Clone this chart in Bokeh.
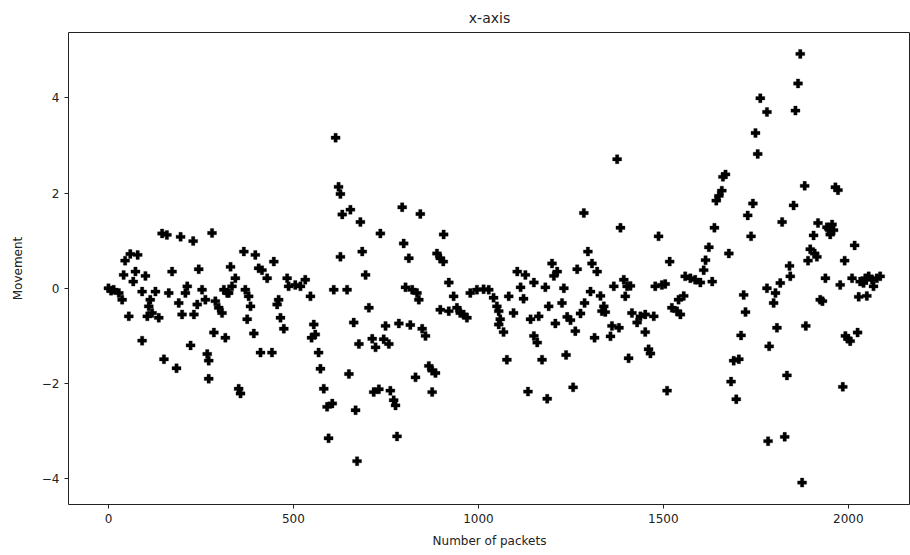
from bokeh.plotting import figure
from bokeh.models import FixedTicker, ColumnDataSource, Range1d
from bokeh.embed import file_html
from bokeh.resources import INLINE

# packet index / movement values
packets = [
    0, 7, 14, 28, 37,
    145, 158, 195, 229, 280, 59, 79, 45, 41, 73, 100, 67, 172, 244,
    91, 113, 127, 163, 213, 208, 253, 262, 312, 321,
    55, 109, 118, 136, 105, 190, 199, 231, 240, 289, 298, 307,
    285, 316, 91, 222, 267, 271, 150, 184, 271,
    614, 622, 627, 632, 654, 681, 627, 686, 366, 397, 330, 343, 334, 325,
    415, 429, 447, 406, 483, 505, 532, 519, 487, 546, 609, 645,
    370, 379, 384, 456, 460, 375, 393, 465, 474, 411, 442, 555, 559, 549,
    663, 677, 568, 573, 650, 582, 591, 605, 668, 352, 357, 595, 672,
    794, 843, 735, 906, 798, 812, 888, 897, 905, 695, 803, 821, 834, 839,
    920, 933, 897, 920, 942, 951, 960, 969, 978, 996, 1014, 1028, 1041, 1050,
    704, 749, 785, 816, 848, 857, 713, 722, 744, 758,
    866, 875, 884, 830, 875, 717, 731, 762, 771, 776, 780,
    1375, 1285, 1384, 1296, 1307, 1321, 1199, 1213, 1204, 1267, 1105, 1127, 1150,
    1114, 1122, 1181, 1231, 1082, 1303, 1330, 1366, 1393, 1402, 1411, 1397,
    1287, 1226, 1190, 1339, 1343, 1334, 1055, 1095, 1059, 1055, 1141, 1163,
    1276, 1240, 1249, 1262, 1208, 1068, 1150, 1159, 1361, 1380, 1357, 1314,
    1415, 1077, 1172, 1237, 1406, 1134, 1186, 1256,
    1762, 1749, 1755, 1668, 1661, 1658, 1650, 1643, 1742, 1728, 1737,
    1638, 1487, 1623, 1614, 1609, 1677, 1517, 1559, 1573, 1586, 1600, 1632,
    1478, 1496, 1505, 1555, 1541, 1523, 1537, 1546, 1717,
    1438, 1451, 1474, 1429, 1722, 1451, 1710, 1460, 1465,
    1690, 1704, 1683, 1697, 1510,
    1870, 1864, 1857, 1780, 1882, 1965, 1972, 1852, 1821, 1918, 1906,
    1947, 1956, 1960, 1951, 1942, 2017, 1897, 1909, 1915, 1891, 1990,
    1841, 1843, 1938, 1816, 1978, 2010, 2032, 2046, 2055, 2064, 2077, 2086, 2068, 2041,
    1780, 1803, 1798, 1924, 1930, 2028, 2050, 1807, 1885, 1786, 1992, 2005, 2025, 1999,
    1834, 1985, 1783, 1828, 1875,
]
movement = [
    0.0, -0.05, -0.03, -0.10, -0.24,
    1.15, 1.12, 1.08, 0.99, 1.16, 0.72, 0.70, 0.58, 0.28, 0.35, 0.26, 0.14, 0.35, 0.40,
    -0.07, -0.24, -0.07, -0.10, 0.04, -0.10, -0.03, -0.24, -0.03, -0.10,
    -0.59, -0.38, -0.52, -0.62, -0.59, -0.31, -0.55, -0.55, -0.34, -0.27, -0.41, -0.52,
    -0.93, -1.04, -1.10, -1.20, -1.38, -1.52, -1.49, -1.68, -1.90,
    3.16, 2.13, 1.98, 1.55, 1.65, 1.39, 0.66, 0.77, 0.77, 0.70, 0.45, 0.21, 0.04, -0.10,
    0.38, 0.21, 0.56, 0.42, 0.21, 0.07, 0.18, 0.04, 0.04, -0.17, -0.03, -0.03,
    -0.03, -0.17, -0.38, -0.34, -0.24, -0.65, -0.95, -0.62, -0.85, -1.35, -1.35, -0.76, -0.97, -1.04,
    -0.72, -1.17, -1.35, -1.69, -1.80, -2.11, -2.49, -2.42, -2.56, -2.11, -2.21, -3.15, -3.63,
    1.70, 1.56, 1.15, 1.13, 0.94, 0.63, 0.73, 0.63, 0.56, 0.28, 0.02, -0.03, -0.10, -0.24,
    0.12, -0.17, -0.45, -0.48, -0.41, -0.52, -0.55, -0.62, -0.10, -0.03, -0.02, -0.03, -0.20, -0.38,
    -0.41, -0.79, -0.74, -0.77, -0.85, -1.00, -1.06, -1.24, -1.07, -1.17,
    -1.63, -1.73, -1.78, -1.87, -2.18, -2.18, -2.12, -2.15, -2.35, -2.46, -3.11,
    2.71, 1.58, 1.27, 0.77, 0.52, 0.35, 0.52, 0.35, 0.26, 0.40, 0.35, 0.28, 0.12,
    0.02, -0.22, 0.02, 0.00, -0.17, -0.07, -0.16, 0.04, 0.18, 0.04, 0.05, -0.17,
    -0.31, -0.31, -0.38, -0.38, -0.50, -0.48, -0.48, -0.52, -0.65, -0.76, -0.65, -0.59,
    -0.53, -0.60, -0.67, -0.90, -0.74, -0.92, -1.00, -1.14, -0.79, -0.83, -1.01, -1.04,
    -0.52, -1.50, -1.50, -1.40, -1.47, -2.17, -2.32, -2.08,
    3.99, 3.26, 2.82, 2.39, 2.34, 2.05, 1.94, 1.84, 1.78, 1.53, 1.09,
    1.27, 1.09, 0.86, 0.59, 0.38, 0.73, 0.56, 0.25, 0.21, 0.18, 0.12, 0.14,
    0.04, 0.07, 0.09, -0.16, -0.24, -0.41, -0.48, -0.55, -0.14,
    -0.59, -0.55, -0.59, -0.72, -0.50, -0.92, -0.99, -1.28, -1.37,
    -1.52, -1.49, -1.96, -2.33, -2.15,
    4.92, 4.30, 3.73, 3.70, 2.15, 2.12, 2.06, 1.74, 1.39, 1.37, 1.11,
    1.25, 1.34, 1.22, 1.13, 1.28, 0.90, 0.82, 0.73, 0.66, 0.58, 0.58,
    0.47, 0.25, 0.21, 0.11, 0.07, 0.21, 0.14, 0.21, 0.25, 0.18, 0.21, 0.25, 0.04, 0.11,
    0.00, -0.10, -0.31, -0.24, -0.27, -0.18, -0.16, -0.83, -0.79, -1.22, -1.00, -1.11, -0.93, -1.06,
    -1.83, -2.07, -3.21, -3.12, -4.08,
]

x_ticks = [0, 500, 1000, 1500, 2000]
y_ticks = [-4, -2, 0, 2, 4]
y_tick_labels = {-4: "\u22124", -2: "\u22122", 0: "0", 2: "2", 4: "4"}

source = ColumnDataSource(data=dict(x=packets, y=movement))

FONT = "DejaVu Sans"

p = figure(
    width=910, height=550,
    output_backend="svg", toolbar_location=None,
    x_range=Range1d(-108, 2168), y_range=Range1d(-4.54, 5.37),
    title="x-axis",
    min_border_left=68, min_border_right=0, min_border_top=30, min_border_bottom=43,
)
p.title.align = "center"
p.title.text_font = FONT
p.title.text_font_size = "14px"
p.title.text_font_style = "normal"
p.title.text_color = "#222222"
p.title.standoff = 14

p.scatter("x", "y", source=source, marker="plus", size=9,
          fill_color="black", line_color="black", line_width=0.3)

p.grid.visible = False
p.outline_line_color = "#222222"
p.outline_line_width = 1
p.background_fill_color = "white"
p.border_fill_color = "white"

for ax in (p.xaxis[0], p.yaxis[0]):
    ax.axis_line_color = None
    ax.major_tick_line_color = "#222222"
    ax.major_tick_out = 4
    ax.major_tick_in = 0
    ax.minor_tick_line_color = None
    ax.major_label_text_font = FONT
    ax.major_label_text_font_size = "12px"
    ax.major_label_text_color = "#222222"
    ax.axis_label_text_font = FONT
    ax.axis_label_text_font_size = "12px"
    ax.axis_label_text_font_style = "normal"
    ax.axis_label_text_color = "#222222"

p.xaxis.ticker = FixedTicker(ticks=x_ticks)
p.yaxis.ticker = FixedTicker(ticks=y_ticks)
p.yaxis.major_label_overrides = y_tick_labels
p.xaxis.axis_label = "Number of packets"
p.yaxis.axis_label = "Movement"
p.xaxis.axis_label_standoff = 8
p.yaxis.axis_label_standoff = 14

open("out.html", "w").write(file_html(p, INLINE))
